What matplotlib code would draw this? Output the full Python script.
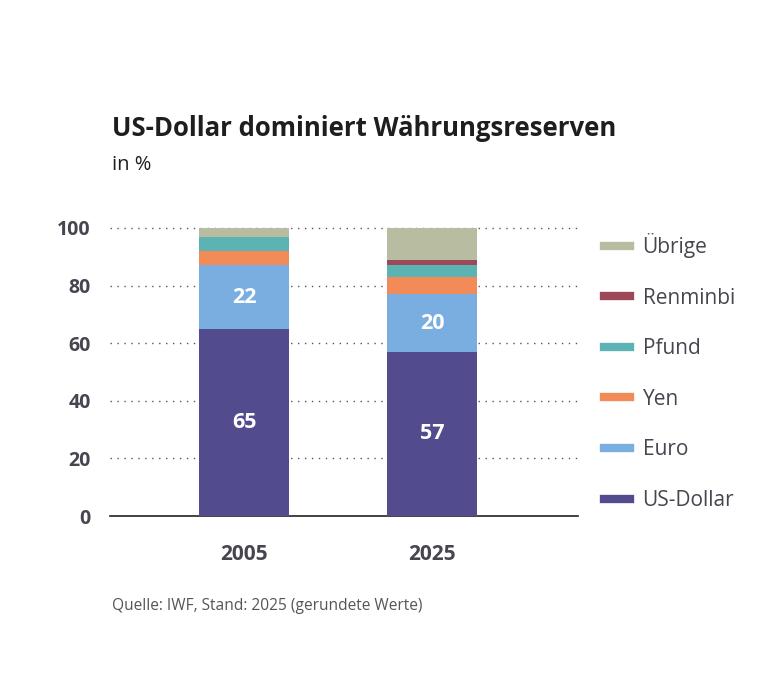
import numpy as np
import matplotlib.pyplot as plt
from matplotlib.lines import Line2D

# data (rounded shares in %)
years = ["2005", "2025"]
currencies = ["US-Dollar", "Euro", "Yen", "Pfund", "Renminbi", "Übrige"]
us_dollar = [65, 57]
euro = [22, 20]
yen = [5, 6]
pfund = [5, 4]
renminbi = [0, 2]
uebrige = [3, 11]
colors = ["#524b8e", "#7aaee0", "#f28b57", "#5bb3b3", "#9b4859", "#b8bca0"]
yticks = [0, 20, 40, 60, 80, 100]

plt.rcParams['font.family'] = ['Open Sans', 'DejaVu Sans']

fig = plt.figure(figsize=(7.83, 6.76), dpi=100)
ax = fig.add_axes([110 / 783, 1 - 516 / 676, 468 / 783, 288 / 676])

series = [us_dollar, euro, yen, pfund, renminbi, uebrige]
x = np.arange(len(years))
bottom = np.zeros(len(years))
for name, vals, col in zip(currencies, series, colors):
    vals = np.array(vals, dtype=float)
    ax.bar(x, vals, width=0.48, bottom=bottom, color=col, zorder=3, label=name)
    # white labels only on the two big segments
    if name in ("US-Dollar", "Euro"):
        for xi, b, v in zip(x, bottom, vals):
            ax.text(xi, b + v / 2, f"{v:.0f}", ha="center", va="center",
                    color="white", fontsize=15.5, fontweight="bold", zorder=4)
    bottom += vals

ax.set_xlim(-0.713, 1.777)
ax.set_ylim(0, 100)
ax.set_yticks(yticks)
ax.set_xticks(x)
ax.set_xticklabels(years)
ax.tick_params(axis="both", length=0, labelcolor="#45464f", labelsize=14)
ax.tick_params(axis="y", pad=14)
ax.tick_params(axis="x", pad=20, labelsize=15)
for lab in ax.get_xticklabels() + ax.get_yticklabels():
    lab.set_fontweight("bold")

for v in yticks[1:]:
    ax.axhline(v, color="#555555", lw=1.0, ls=(0, (1, 4)), zorder=1, clip_on=False)

for s in ["top", "right", "left"]:
    ax.spines[s].set_visible(False)
ax.spines["bottom"].set_color("#222222")
ax.spines["bottom"].set_linewidth(1.2)

handles = [Line2D([0], [0], color=c, lw=6) for c in colors][::-1]
leg = ax.legend(handles, currencies[::-1], loc="upper left",
                bbox_to_anchor=(604 / 783, 1 - 233 / 676), bbox_transform=fig.transFigure,
                frameon=False, fontsize=15, handlelength=1.25, handletextpad=0.6,
                labelspacing=1.42, borderpad=0, borderaxespad=0)
for t in leg.get_texts():
    t.set_color("#45464f")

fig.text(112 / 783, 1 - 128 / 676, "US-Dollar dominiert Währungsreserven",
         fontsize=18.5, fontweight="bold", color="#1e1e1e", va="center")
fig.text(112 / 783, 1 - 165 / 676, "in %", fontsize=14.5, color="#1e1e1e", va="center")
fig.text(112 / 783, 1 - 606 / 676, "Quelle: IWF, Stand: 2025 (gerundete Werte)",
         fontsize=11.2, color="#555555", va="center")

fig.savefig("out.png", dpi=100, facecolor="white")
